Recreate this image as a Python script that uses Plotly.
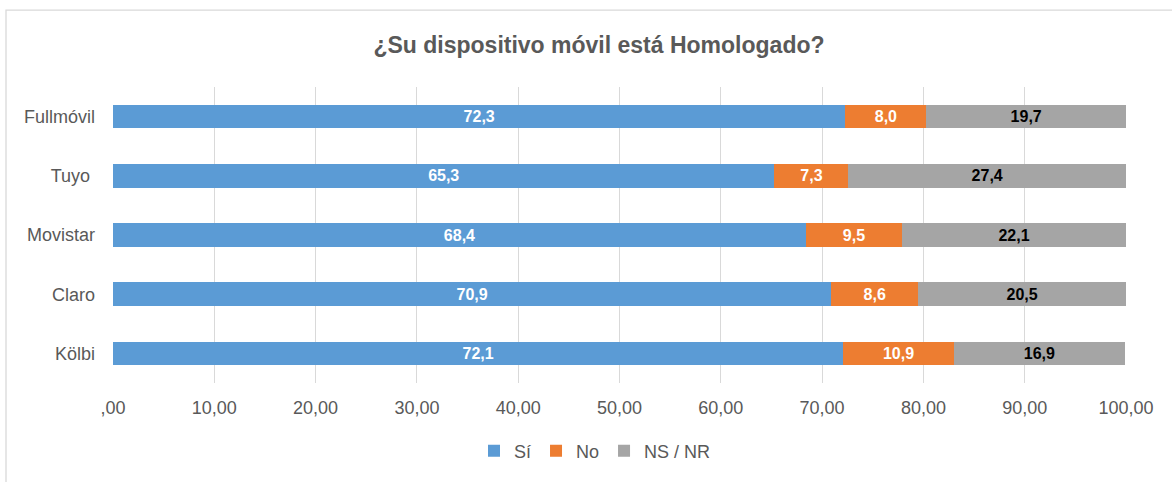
import plotly.graph_objects as go

categories = ["Kölbi", "Claro", "Movistar", "Tuyo ", "Fullmóvil"]
si = [72.1, 70.9, 68.4, 65.3, 72.3]
no = [10.9, 8.6, 9.5, 7.3, 8.0]
nsnr = [16.9, 20.5, 22.1, 27.4, 19.7]
series_names = ["Sí", "No", "NS / NR"]
tick_vals = [0, 10, 20, 30, 40, 50, 60, 70, 80, 90, 100]
tick_text = [",00", "10,00", "20,00", "30,00", "40,00", "50,00", "60,00", "70,00", "80,00", "90,00", "100,00"]
title = "¿Su dispositivo móvil está Homologado?"

colors = ["#5B9BD5", "#ED7D31", "#A5A5A5"]
label_colors = ["white", "white", "black"]
FONT = "Liberation Sans, Arial, sans-serif"

def fmt(v):
    return f"{v:.1f}".replace(".", ",")

fig = go.Figure()
for name, vals, c, lc in zip(series_names, [si, no, nsnr], colors, label_colors):
    fig.add_trace(go.Bar(
        y=categories, x=vals, name=name, orientation="h",
        marker=dict(color=c, line=dict(width=0)),
        text=[fmt(v) for v in vals], textposition="inside",
        insidetextanchor="middle", constraintext="none",
        textfont=dict(family=FONT, size=16, color=lc, weight="bold"),
        hoverinfo="skip",
    ))

W, H = 1172, 482
ml, mr, mt, mb = 113, 46, 87, 95
pw = W - ml - mr
ph = H - mt - mb
bx = (6 - ml) / pw
ty = 1 + (mt - 9) / ph
fig.add_shape(type="path", xref="paper", yref="paper",
              path=f"M {bx} {-(H - mt) / ph - 0.1} L {bx} {ty} L 1.2 {ty}",
              line=dict(color="#D9D9D9", width=1.3))

fig.update_layout(
    width=W, height=H,
    margin=dict(l=ml, r=mr, t=mt, b=mb),
    barmode="stack", bargap=0.6,
    plot_bgcolor="white", paper_bgcolor="white",
    font=dict(family=FONT, color="#595959", size=18),
    title=dict(text=f"<b>{title}</b>", x=599 / W, xanchor="center",
               y=1 - 45 / H, yanchor="middle",
               font=dict(size=23, color="#595959")),
    xaxis=dict(range=[0, 100], tickvals=tick_vals, ticktext=tick_text,
               showgrid=True, gridcolor="#D9D9D9", gridwidth=1.3,
               zeroline=False, showline=False, ticks="",
               tickfont=dict(size=18, color="#595959"), ticklabelstandoff=12),
    yaxis=dict(showgrid=False, zeroline=False, showline=False, ticks="",
               tickfont=dict(size=18, color="#595959"), ticklabelstandoff=17),
    legend=dict(orientation="h", x=(595 - ml) / pw, xanchor="center",
                y=-(456 - (mt + ph)) / ph, yanchor="middle",
                font=dict(size=18, color="#595959"), traceorder="normal",
                itemwidth=30),
    showlegend=True,
)

fig.write_html("out.html", config={"displayModeBar": False},
               post_script="document.body.style.margin='0';")
